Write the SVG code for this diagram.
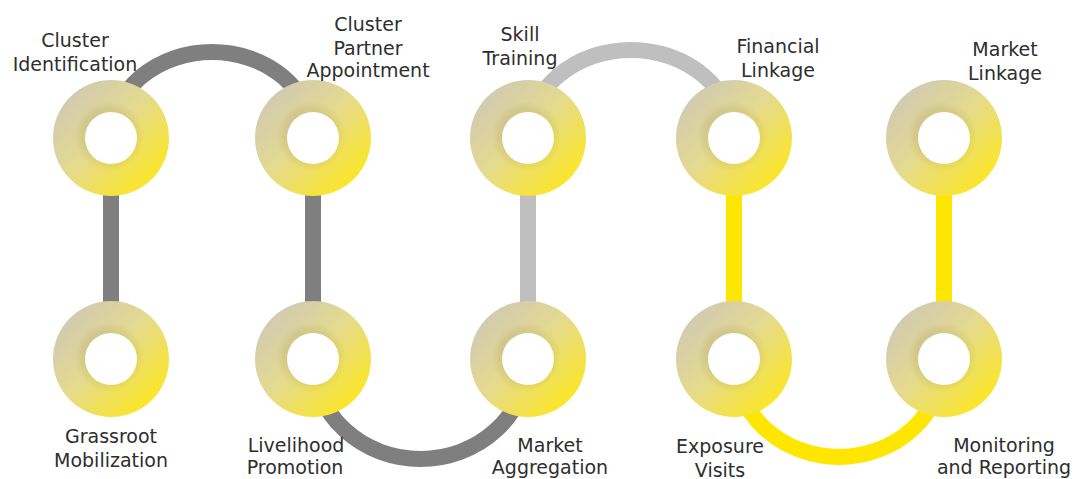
<svg xmlns="http://www.w3.org/2000/svg" xmlns:xlink="http://www.w3.org/1999/xlink" width="1077" height="479" viewBox="0 0 1077 479">
  <style>
    .lbl { font-family: "DejaVu Sans", "Liberation Sans", sans-serif; font-size: 19px; fill: #2e2e2e; text-anchor: middle; }
    .link { fill: none; stroke-width: 16; }
    .dark { stroke: #7f7f7f; }
    .light { stroke: #bfbfbf; }
    .yellow { stroke: #ffe600; }
  </style>
  <defs>
    <linearGradient id="ringFill" x1="0.12" y1="0.1" x2="0.88" y2="0.9">
      <stop offset="0" stop-color="#d0c9b4"/>
      <stop offset="0.45" stop-color="#e4da90"/>
      <stop offset="1" stop-color="#fde71f"/>
    </linearGradient>
    <radialGradient id="ringShade" cx="0.5" cy="0.5" r="0.5" fx="0.46" fy="0.46">
      <stop offset="0.44" stop-color="#8a7a20" stop-opacity="0.14"/>
      <stop offset="0.6" stop-color="#8a7a20" stop-opacity="0"/>
      <stop offset="1" stop-color="#8a7a20" stop-opacity="0"/>
    </radialGradient>
    <!-- ring centred on the origin: outer radius 58, hole radius 26 -->
    <path id="ring" fill-rule="evenodd" d="M-58,0 a58,58 0 1,0 116,0 a58,58 0 1,0 -116,0 Z M-26,0 a26,26 0 1,1 52,0 a26,26 0 1,1 -52,0 Z"/>
    <g id="donut">
      <circle r="27" fill="#ffffff"/>
      <use xlink:href="#ring" fill="url(#ringFill)"/>
      <use xlink:href="#ring" fill="url(#ringShade)"/>
    </g>
  </defs>

  <rect width="1077" height="479" fill="#ffffff"/>

  <g id="connectors">
    <line class="link dark" x1="111" y1="138" x2="111" y2="359"/>
    <path class="link dark" d="M111,138 A101,86 0 0 1 313,138"/>
    <line class="link dark" x1="313" y1="138" x2="313" y2="359"/>
    <path class="link dark" d="M313,359 A107.5,100 0 0 0 528,359"/>
    <line class="link light" x1="528" y1="138" x2="528" y2="359"/>
    <path class="link light" d="M528,138 A103,88 0 0 1 734,138"/>
    <line class="link yellow" x1="734" y1="138" x2="734" y2="359"/>
    <path class="link yellow" d="M734,359 A105,98 0 0 0 944,359"/>
    <line class="link yellow" x1="944" y1="138" x2="944" y2="359"/>
  </g>

  <g id="cluster-identification">
    <use xlink:href="#donut" x="111" y="138"/>
    <text class="lbl" x="75" y="47">Cluster</text>
    <text class="lbl" x="75" y="71">Identification</text>
  </g>
  <g id="grassroot-mobilization">
    <use xlink:href="#donut" x="111" y="359"/>
    <text class="lbl" x="111" y="443">Grassroot</text>
    <text class="lbl" x="111" y="467">Mobilization</text>
  </g>
  <g id="cluster-partner-appointment">
    <use xlink:href="#donut" x="313" y="138"/>
    <text class="lbl" x="368" y="31">Cluster</text>
    <text class="lbl" x="368" y="55">Partner</text>
    <text class="lbl" x="368" y="77">Appointment</text>
  </g>
  <g id="livelihood-promotion">
    <use xlink:href="#donut" x="313" y="359"/>
    <text class="lbl" x="296" y="452">Livelihood</text>
    <text class="lbl" x="295" y="474">Promotion</text>
  </g>
  <g id="skill-training">
    <use xlink:href="#donut" x="528" y="138"/>
    <text class="lbl" x="520" y="41">Skill</text>
    <text class="lbl" x="520" y="65">Training</text>
  </g>
  <g id="market-aggregation">
    <use xlink:href="#donut" x="528" y="359"/>
    <text class="lbl" x="550" y="452">Market</text>
    <text class="lbl" x="550" y="474">Aggregation</text>
  </g>
  <g id="financial-linkage">
    <use xlink:href="#donut" x="734" y="138"/>
    <text class="lbl" x="778" y="53">Financial</text>
    <text class="lbl" x="778" y="77">Linkage</text>
  </g>
  <g id="exposure-visits">
    <use xlink:href="#donut" x="734" y="359"/>
    <text class="lbl" x="720" y="453">Exposure</text>
    <text class="lbl" x="720" y="477">Visits</text>
  </g>
  <g id="market-linkage">
    <use xlink:href="#donut" x="944" y="138"/>
    <text class="lbl" x="1005" y="56">Market</text>
    <text class="lbl" x="1005" y="80">Linkage</text>
  </g>
  <g id="monitoring-reporting">
    <use xlink:href="#donut" x="944" y="359"/>
    <text class="lbl" x="1004" y="452">Monitoring</text>
    <text class="lbl" x="1004" y="474">and Reporting</text>
  </g>
</svg>
